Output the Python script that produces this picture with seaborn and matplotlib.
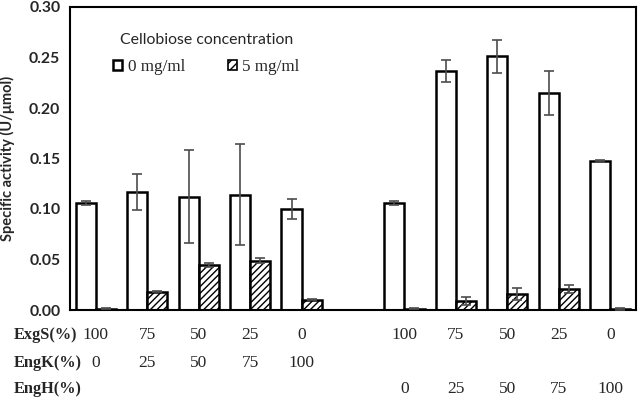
import matplotlib
matplotlib.use("Agg")
import matplotlib.pyplot as plt
import seaborn as sns
import pandas as pd
from matplotlib.patches import Patch
from matplotlib.container import BarContainer
from matplotlib.transforms import blended_transform_factory

# ---- data ----
categories = ["S100", "S75K25", "S50K50", "S25K75", "K100",
              "S100b", "S75H25", "S50H50", "S25H75", "H100"]
order = categories[:5] + ["gap"] + categories[5:]
hue_levels = ["0 mg/ml", "5 mg/ml"]
mean_0 = [0.106, 0.117, 0.112, 0.114, 0.100, 0.106, 0.237, 0.251, 0.215, 0.148]
sd_0 = [0.002, 0.018, 0.046, 0.050, 0.010, 0.002, 0.011, 0.016, 0.022, 0.001]
mean_5 = [0.001, 0.018, 0.045, 0.049, 0.010, 0.001, 0.009, 0.016, 0.021, 0.001]
sd_5 = [0.0005, 0.0005, 0.002, 0.002, 0.0005, 0.0005, 0.004, 0.006, 0.004, 0.001]
exgs_labels = ["100", "75", "50", "25", "0", "100", "75", "50", "25", "0"]
engk_labels = ["0", "25", "50", "75", "100"]
engh_labels = ["0", "25", "50", "75", "100"]
yticks = [0.00, 0.05, 0.10, 0.15, 0.20, 0.25, 0.30]

df = pd.DataFrame({
    "cond": categories * 2,
    "cellobiose": [hue_levels[0]] * 10 + [hue_levels[1]] * 10,
    "activity": mean_0 + mean_5,
    "sd": sd_0 + sd_5,
})

sns.set_style("white")
plt.rcParams["hatch.linewidth"] = 1.0
SERIF = "Liberation Serif"
SANS = "Lato"

fig = plt.figure(figsize=(6.38, 4.01), dpi=100)
ax = fig.add_axes([70 / 638, 91 / 401, 566 / 638, 303 / 401])

sns.barplot(data=df, x="cond", y="activity", hue="cellobiose",
            order=order, hue_order=hue_levels,
            palette=["white", "white"], edgecolor="black", linewidth=1.8,
            width=0.78, errorbar=None, legend=False, ax=ax, zorder=2)

lookup = {(c, h): (m, s) for c, h, m, s in zip(df["cond"], df["cellobiose"], df["activity"], df["sd"])}
bar_conts = [c for c in ax.containers if isinstance(c, BarContainer)]
for hi, cont in enumerate(bar_conts):
    for p in cont.patches:
        xc = p.get_x() + p.get_width() / 2
        idx = int(round(xc))
        cat = order[idx]
        m, s = lookup[(cat, hue_levels[hi])]
        if hi == 1:
            p.set_hatch("/////")
        ax.errorbar(xc, m, yerr=s, fmt="none", ecolor="#4d4d4d",
                    elinewidth=1.2, capsize=3.5, capthick=1.2, zorder=3)

ax.set_xlim(-0.5, len(order) - 0.5)
ax.set_ylim(0, 0.30)
ax.set_yticks(yticks)
ax.set_yticklabels([f"{v:.2f}" for v in yticks], fontfamily=SANS,
                   fontsize=11.3, fontweight="bold")
ax.set_xticks([])
ax.set_xlabel("")
ax.set_ylabel("Specific activity (U/\u03bcmol)", fontfamily=SANS, fontsize=10.5,
              fontweight="bold", labelpad=10)
ax.tick_params(axis="y", length=0, pad=7)
for sp in ax.spines.values():
    sp.set_visible(True)
    sp.set_color("black")
    sp.set_linewidth(1.5)

# table below axis
tr = blended_transform_factory(ax.transData, fig.transFigure)
row_y = [(401 - 335) / 401, (401 - 363) / 401, (401 - 389) / 401]
row_names = ["ExgS(%)", "EngK(%)", "EngH(%)"]
for name, y in zip(row_names, row_y):
    fig.text(14 / 638, y, name, fontfamily=SERIF, fontweight="bold",
             fontsize=11.8, ha="left", va="center")
for i, lab in enumerate(exgs_labels):
    ax.text(order.index(categories[i]), row_y[0], lab, transform=tr,
            fontfamily=SERIF, fontsize=12.5, ha="center", va="center")
for i, lab in enumerate(engk_labels):
    ax.text(order.index(categories[i]), row_y[1], lab, transform=tr,
            fontfamily=SERIF, fontsize=12.5, ha="center", va="center")
for i, lab in enumerate(engh_labels):
    ax.text(order.index(categories[5 + i]), row_y[2], lab, transform=tr,
            fontfamily=SERIF, fontsize=12.5, ha="center", va="center")

handles = [Patch(facecolor="white", edgecolor="black", linewidth=1.8),
           Patch(facecolor="white", edgecolor="black", linewidth=1.2, hatch="////")]
leg = ax.legend(handles, hue_levels, title="Cellobiose concentration", ncol=2,
                loc="upper left", bbox_to_anchor=(0.076, 0.915), frameon=False,
                handlelength=0.55, handleheight=0.55, handletextpad=0.3,
                columnspacing=2.5, borderpad=0, borderaxespad=0, labelspacing=0.7,
                prop={"family": SERIF, "size": 12.3})
leg.get_title().set_fontfamily(SANS)
leg.get_title().set_fontsize(11.4)

fig.savefig("out.png", dpi=100)
